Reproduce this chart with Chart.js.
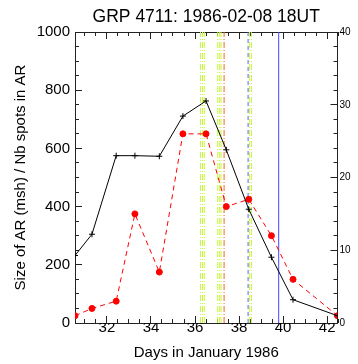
<!DOCTYPE html>
<html><head><meta charset="utf-8">
<script src="https://cdn.jsdelivr.net/npm/chart.js@4/dist/chart.umd.min.js"></script>
<style>html,body{margin:0;padding:0;background:#fff}canvas{display:block}</style>
</head><body>
<canvas id="c" width="358" height="364"></canvas>
<script>
// ---- data ----
const days      = [30.55, 31.32, 32.42, 33.27, 34.38, 35.45, 36.5, 37.42, 38.44, 39.47, 40.45, 42.47];
const areaMsh   = [232, 305, 575, 575, 573, 711, 763, 595, 391, 226, 80, 25];
const nbSpots   = [1, 2, 3, 15, 7, 26, 26, 16, 17, 12, 6, 1];
const xTickLabels     = [32, 34, 36, 38, 40, 42];
const leftTickLabels  = [0, 200, 400, 600, 800, 1000];
const rightTickLabels = [0, 10, 20, 30, 40];
const greenLines      = [36.25, 36.34, 36.42, 37.03, 37.12, 37.18, 38.48, 38.56];
const orangeLines     = [37.32];
const blueDashedLines = [38.41];
const blueSolidLines  = [39.8];

const FONT = "'Liberation Sans', Arial, Helvetica, sans-serif";
const X_MIN = 30.55, X_MAX = 42.47;

function steps(a, b, s) { const r = []; for (let i = 0; a + i * s <= b + 1e-9; i++) r.push(+(a + i * s).toFixed(4)); return r; }
const xMinorTicks  = steps(31, 42.5, 0.5);
const yMinorTicks  = steps(0, 1000, 50);
const y2MinorTicks = steps(0, 40, 2);

function vline(x, color, dash) {
  return { type: 'line', data: [{x: x, y: 0}, {x: x, y: 1000}], yAxisID: 'y',
    borderColor: color, borderWidth: 1, borderDash: dash, pointRadius: 0, fill: false, order: 5 };
}

const datasets = [
  { label: 'area', data: days.map((d, i) => ({x: d, y: areaMsh[i]})), yAxisID: 'y',
    borderColor: '#000', borderWidth: 1, pointStyle: 'cross', pointRadius: 3,
    pointBorderColor: '#000', pointBorderWidth: 1, fill: false, order: 1 },
  { label: 'spots', data: days.map((d, i) => ({x: d, y: nbSpots[i]})), yAxisID: 'y2',
    borderColor: '#ff0000', borderWidth: 1, borderDash: [5, 4], pointStyle: 'circle', pointRadius: 3,
    pointBackgroundColor: '#ff0000', pointBorderColor: '#ff0000', fill: false, order: 2 }
];
greenLines.forEach(v => datasets.push(vline(v, 'rgb(200,248,60)', [6, 2, 1, 2])));
orangeLines.forEach(v => datasets.push(vline(v, 'rgb(255,95,25)', [6, 2, 1, 2])));
blueDashedLines.forEach(v => datasets.push(vline(v, 'rgb(95,95,255)', [4, 3])));
blueSolidLines.forEach(v => datasets.push(vline(v, 'rgb(70,70,255)', [])));

const AX = '#222';
function tickGrid(len) {
  return { display: true, drawOnChartArea: false, drawTicks: true, tickLength: -len,
    color: AX, tickColor: AX, lineWidth: 1, tickWidth: 1 };
}
// helper for an unlabeled tick-only axis (minor ticks / mirrored top ticks)
function tickAxis(position, min, max, values, len, showBorder, sizeProp) {
  return { type: 'linear', position: position, min: min, max: max, weight: 0, display: true,
    afterBuildTicks: s => { s.ticks = values.map(v => ({value: v})); },
    afterFit: s => { s[sizeProp] = 0; },
    grid: tickGrid(len), border: { display: showBorder, color: AX, width: 1 },
    ticks: { display: false } };
}

new Chart(document.getElementById('c'), {
  type: 'line',
  data: { datasets: datasets },
  options: {
    responsive: false, animation: false, devicePixelRatio: 1,
    layout: { padding: 0 },
    plugins: {
      legend: { display: false }, tooltip: { enabled: false },
      title: { display: true, fullSize: false, text: 'GRP 4711: 1986-02-08 18UT', color: '#000',
        font: { family: FONT, size: 17.5, weight: 'normal' }, padding: { top: 7, bottom: 4 } }
    },
    scales: {
      x: { type: 'linear', position: 'bottom', min: X_MIN, max: X_MAX, weight: 1,
        afterBuildTicks: s => { s.ticks = xTickLabels.map(v => ({value: v})); },
        afterFit: s => { s.height = 41; },
        grid: tickGrid(7), border: { display: true, color: AX, width: 1 },
        ticks: { color: '#000', font: { family: FONT, size: 15 }, padding: 3, maxRotation: 0, autoSkip: false,
          callback: v => String(v) },
        title: { display: true, text: 'Days in January 1986', color: '#000',
          font: { family: FONT, size: 15 }, padding: { top: 0, bottom: 2 } } },
      xMinor:   tickAxis('bottom', X_MIN, X_MAX, xMinorTicks, 4, false, 'height'),
      xTop:     tickAxis('top', X_MIN, X_MAX, xTickLabels, 7, true, 'height'),
      xTopMin:  tickAxis('top', X_MIN, X_MAX, xMinorTicks, 4, false, 'height'),
      y: { type: 'linear', position: 'left', min: 0, max: 1000, weight: 1,
        afterBuildTicks: s => { s.ticks = leftTickLabels.map(v => ({value: v})); },
        afterFit: s => { s.width = 75; },
        grid: tickGrid(7), border: { display: true, color: AX, width: 1 },
        ticks: { color: '#000', font: { family: FONT, size: 15 }, padding: 12, autoSkip: false,
          callback: v => String(v) },
        title: { display: true, text: 'Size of AR (msh) / Nb spots in AR', color: '#000',
          font: { family: FONT, size: 15 }, padding: { top: 12, bottom: 0 } } },
      yMinor:   tickAxis('left', 0, 1000, yMinorTicks, 4, false, 'width'),
      y2: { type: 'linear', position: 'right', min: 0, max: 40, weight: 1,
        afterBuildTicks: s => { s.ticks = rightTickLabels.map(v => ({value: v})); },
        afterFit: s => { s.width = 20.5; },
        grid: tickGrid(7), border: { display: true, color: AX, width: 1 },
        ticks: { color: '#000', font: { family: FONT, size: 10 }, padding: 9, autoSkip: false,
          callback: v => String(v) } },
      y2Minor:  tickAxis('right', 0, 40, y2MinorTicks, 4, false, 'width')
    }
  }
});
</script>
</body></html>
